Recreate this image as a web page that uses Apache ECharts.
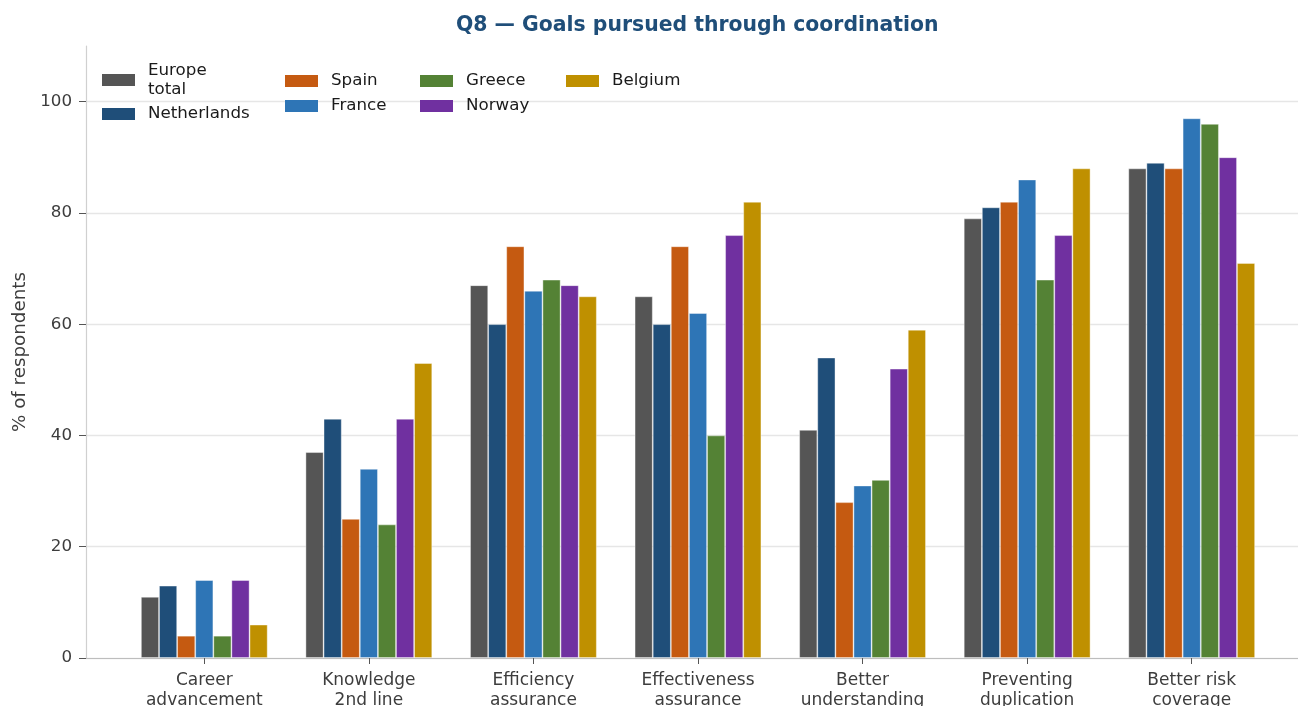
<!DOCTYPE html>
<html>
<head>
<meta charset="utf-8">
<script src="https://cdn.jsdelivr.net/npm/echarts@6/dist/echarts.min.js"></script>
<style>
  html, body { margin: 0; padding: 0; background: #fff; }
  #chart { width: 1298px; height: 706px; }
</style>
</head>
<body>
<div id="chart"></div>
<script>
var categories = ['Career\nadvancement', 'Knowledge\n2nd line', 'Efficiency\nassurance',
  'Effectiveness\nassurance', 'Better\nunderstanding', 'Preventing\nduplication', 'Better risk\ncoverage'];
var europeTotal = [11, 37, 67, 65, 41, 79, 88];
var netherlands = [13, 43, 60, 60, 54, 81, 89];
var spain       = [4, 25, 74, 74, 28, 82, 88];
var france      = [14, 34, 66, 62, 31, 86, 97];
var greece      = [4, 24, 68, 40, 32, 68, 96];
var norway      = [14, 43, 67, 76, 52, 76, 90];
var belgium     = [6, 53, 65, 82, 59, 88, 71];
var yTicks = [0, 20, 40, 60, 80, 100];

var font = 'DejaVu Sans';
var seriesList = [
  { name: 'Europe total', color: '#555555', data: europeTotal },
  { name: 'Netherlands', color: '#1f4e79', data: netherlands },
  { name: 'Spain', color: '#c55a11', data: spain },
  { name: 'France', color: '#2e75b6', data: france },
  { name: 'Greece', color: '#548235', data: greece },
  { name: 'Norway', color: '#7030a0', data: norway },
  { name: 'Belgium', color: '#bf9000', data: belgium }
];

// one legend per column, like the original layout
function legendCol(names, left, top, gap) {
  return {
    data: names,
    orient: 'vertical',
    left: left,
    top: top,
    padding: 0,
    itemGap: gap,
    itemWidth: 33,
    itemHeight: 12,
    icon: 'rect',
    itemStyle: { borderWidth: 0 },
    formatter: function (n) { return n === 'Europe total' ? 'Europe\ntotal' : n; },
    textStyle: { fontFamily: font, fontSize: 16.7, color: '#1a1a1a', lineHeight: 19, padding: [0, 0, 0, 8] }
  };
}

var option = {
  backgroundColor: '#fff',
  animation: false,
  title: {
    text: 'Q8 — Goals pursued through coordination',
    left: 451,
    top: 11,
    textStyle: { fontFamily: font, fontSize: 20.4, fontWeight: 'bold', color: '#1f4e79' }
  },
  legend: [
    legendCol(['Europe total', 'Netherlands'], 102, 61, 5.5),
    legendCol(['Spain', 'France'], 285, 71.5, 6),
    legendCol(['Greece', 'Norway'], 420, 71.5, 6),
    legendCol(['Belgium'], 566, 71.5, 6)
  ],
  grid: [
    { left: 86, right: 0, top: 46, bottom: 48, outerBoundsMode: 'none' },
    { left: 122, right: 24, top: 46, bottom: 48, outerBoundsMode: 'none' }
  ],
  xAxis: [
    {
      gridIndex: 0, type: 'category', data: categories,
      axisLine: { show: true, lineStyle: { color: '#bdbdbd', width: 1.2 } },
      axisTick: { show: false }, axisLabel: { show: false }, splitLine: { show: false }
    },
    {
      gridIndex: 1, type: 'category', data: categories,
      axisLine: { show: false },
      axisTick: { show: true, alignWithLabel: true, length: 6, lineStyle: { color: '#555' } },
      axisLabel: { fontFamily: font, fontSize: 17, color: '#3d3d3d', lineHeight: 20, margin: 13, interval: 0 }
    }
  ],
  yAxis: [
    {
      gridIndex: 0, type: 'value', min: 0, max: 110, interval: 20,
      name: '% of respondents', nameLocation: 'middle', nameGap: 56,
      nameTextStyle: { fontFamily: font, fontSize: 18.3, color: '#3d3d3d' },
      axisLine: { show: true, lineStyle: { color: '#d0d0d0', width: 1.2 } },
      axisTick: { show: true, length: 7, lineStyle: { color: '#555' }, customValues: yTicks },
      axisLabel: { fontFamily: font, fontSize: 16.7, color: '#3d3d3d', margin: 14, customValues: yTicks },
      splitLine: { show: true, lineStyle: { color: '#e6e6e6', width: 1.3 } }
    },
    {
      gridIndex: 1, type: 'value', min: 0, max: 110, show: false, splitLine: { show: false }
    }
  ],
  series: seriesList.map(function (s) {
    return {
      name: s.name,
      type: 'bar',
      xAxisIndex: 1,
      yAxisIndex: 1,
      data: s.data,
      barGap: '0%',
      barCategoryGap: '23%',
      itemStyle: { color: s.color, borderColor: 'rgba(255,255,255,0.5)', borderWidth: 0.8 }
    };
  })
};

var myChart = echarts.init(document.getElementById('chart'));
myChart.setOption(option);
</script>
</body>
</html>
